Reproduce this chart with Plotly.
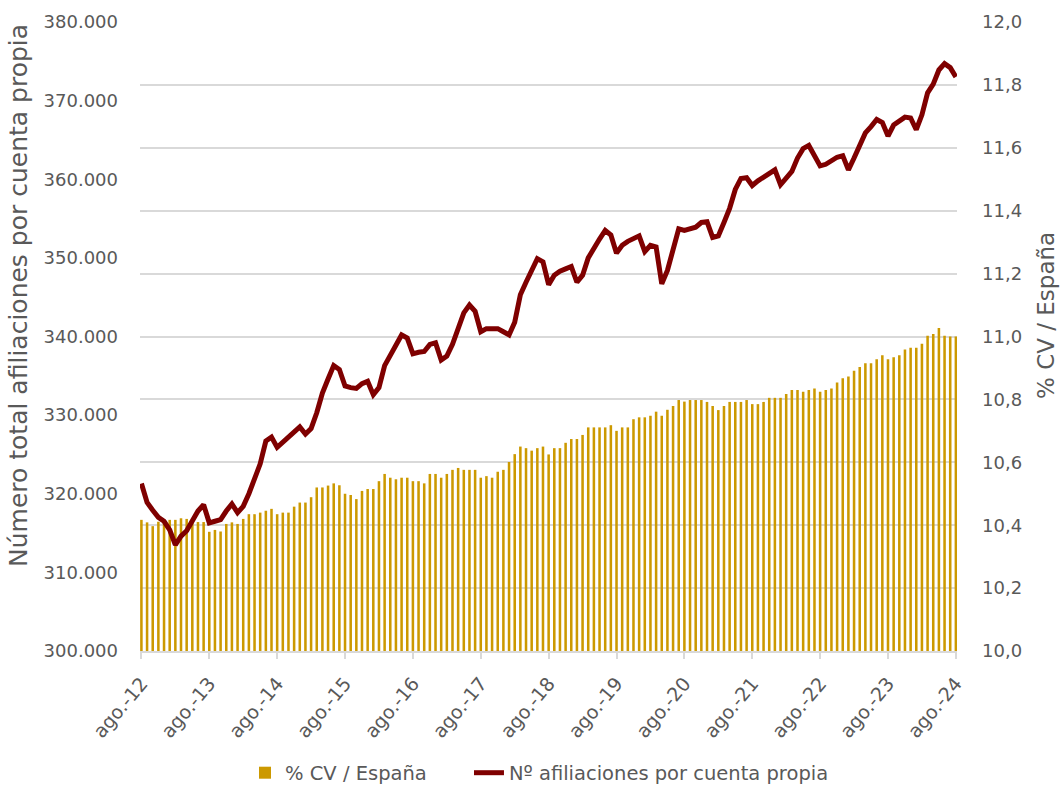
import plotly.graph_objects as go

# ---- data -------------------------------------------------------------
month_abbr = ["ago.", "sep.", "oct.", "nov.", "dic.", "ene.", "feb.", "mar.", "abr.", "may.", "jun.", "jul."]
start_year = 12
months = []
for k in range(145):
    yy = start_year + (k + 7) // 12
    months.append(f"{month_abbr[k % 12]}-{yy:02d}")

tick_labels = [f"ago.-{y}" for y in range(12, 25)]

afiliaciones = [
    321300, 318900, 317900, 317000, 316500, 315400, 313500, 314600, 315300, 316600, 317800, 318600,
    316300, 316500, 316700, 317800, 318700, 317600, 318400, 320000, 322000, 323800, 326700, 327200,
    325900, 326600, 327100, 327800, 328500, 327600, 328300, 330300, 332800, 334600, 336300, 335800,
    333700, 333500, 333400, 334000, 334300, 332600, 333500, 336300, 337600, 338800, 340200, 339800,
    337800, 338000, 338100, 339000, 339200, 337000, 337500, 339000, 341200, 343000, 344000, 343200,
    340600, 341000, 341000, 341000, 340600, 340200, 341800, 345300, 346900, 348500, 349900, 349500,
    346600, 347800, 348300, 348600, 348900, 346900, 347800, 350000, 351300, 352400, 353500, 352900,
    350600, 351600, 352100, 352500, 352800, 350800, 351600, 351400, 346700, 348400, 351200, 353700,
    353500, 353700, 353900, 354500, 354600, 352600, 352800, 354500, 356300, 358700, 360100, 360200,
    359200, 359800, 360300, 360800, 361200, 359300, 360200, 361000, 362700, 363900, 364300, 363100,
    361700, 361900, 362300, 362800, 363000, 361200, 362700, 364300, 365900, 366700, 367600, 367200,
    365500, 366900, 367400, 367900, 367800, 366300, 368200, 371000, 372100, 373900, 374700, 374200,
    373000,
]

pct_cv = [
    10.417, 10.409, 10.397, 10.411, 10.410, 10.417, 10.417, 10.422, 10.420, 10.417, 10.410, 10.410,
    10.379, 10.385, 10.380, 10.404, 10.409, 10.404, 10.420, 10.435, 10.435, 10.440, 10.446, 10.452,
    10.435, 10.440, 10.440, 10.459, 10.472, 10.472, 10.489, 10.520, 10.520, 10.526,
    10.533, 10.527, 10.500, 10.496, 10.483, 10.509, 10.515, 10.515, 10.540, 10.563, 10.551, 10.546,
    10.551, 10.551, 10.540, 10.540, 10.533,
    10.563, 10.563, 10.551, 10.563, 10.576, 10.582, 10.576, 10.576, 10.576, 10.551, 10.556, 10.551,
    10.570, 10.576, 10.601, 10.626, 10.650,
    10.645, 10.637, 10.645, 10.650, 10.625, 10.645, 10.645, 10.662, 10.674, 10.674, 10.687, 10.711,
    10.711, 10.711, 10.711, 10.718, 10.700, 10.711, 10.711, 10.737, 10.743, 10.743, 10.748, 10.761,
    10.748, 10.767, 10.779, 10.798, 10.793, 10.798, 10.798,
    10.798, 10.792, 10.779, 10.766, 10.779, 10.792, 10.792, 10.792, 10.798, 10.785, 10.785, 10.792,
    10.805, 10.805, 10.805, 10.817, 10.830, 10.830, 10.824, 10.830, 10.835, 10.824, 10.830, 10.835,
    10.854, 10.867, 10.873, 10.891, 10.903,
    10.915, 10.915, 10.928, 10.940, 10.928, 10.934, 10.940, 10.959, 10.964, 10.964, 10.977, 11.002,
    11.008, 11.027, 11.002, 11.000, 11.000,
]

left_title = "Número total afiliaciones por cuenta propia"
right_title = "% CV / España"
bar_name = "% CV / España"
line_name = "Nº afiliaciones por cuenta propia"

# ---- figure -----------------------------------------------------------
FONT = "DejaVu Sans"
GREY = "#595959"
GRID = "#D9D9D9"

fig = go.Figure()
fig.add_trace(go.Bar(
    x=months, y=[v - 10.0 for v in pct_cv], base=10.0,
    name=bar_name + "\u00a0" * 6, marker=dict(color="#CC9900", line=dict(width=0)),
    yaxis="y",
))
fig.add_trace(go.Scatter(
    x=months, y=afiliaciones, name=line_name,
    mode="lines", line=dict(color="#7F0000", width=5), yaxis="y2",
))

fig.update_layout(
    width=1061, height=787,
    margin=dict(l=140, r=104, t=22, b=136, autoexpand=False),
    paper_bgcolor="white", plot_bgcolor="white",
    separators=",.",
    bargap=0.55,
    font=dict(family=FONT, color=GREY, size=18),
    showlegend=True,
    legend=dict(orientation="h", x=(245 - 140) / 817, xanchor="left", y=-0.194, yanchor="middle",
                font=dict(size=19.5, color=GREY), traceorder="normal"),
    xaxis=dict(
        type="category", range=[-0.25, 144.2], automargin=False,
        tickmode="array", tickvals=tick_labels, ticktext=tick_labels,
        tickangle=-50, tickfont=dict(size=19, color=GREY), ticklabelstandoff=6,
        showline=True, linecolor=GRID, linewidth=1.5,
        ticks="outside", ticklen=6, tickcolor=GRID, tickwidth=1.5,
        showgrid=False, zeroline=False,
    ),
    yaxis=dict(
        side="right", range=[10.0, 12.0], dtick=0.2, tick0=10.0, tickformat=".1f",
        showgrid=True, gridcolor=GRID, gridwidth=1.5, zeroline=False, automargin=False,
        tickfont=dict(size=18, color=GREY), ticklabelstandoff=24,
    ),
    yaxis2=dict(
        side="left", overlaying="y", range=[300000, 380000], dtick=10000, tickformat=",.0f",
        showgrid=False, zeroline=False, automargin=False,
        tickfont=dict(size=18, color=GREY), ticklabelstandoff=21,
    ),
    annotations=[
        dict(text=left_title, textangle=-90, xref="paper", yref="paper",
             x=(18 - 140) / 817, y=(651 - 296) / 629, xanchor="center", yanchor="middle",
             showarrow=False, font=dict(size=25, color=GREY, family=FONT)),
        dict(text=right_title, textangle=-90, xref="paper", yref="paper",
             x=(1046 - 140) / 817, y=(651 - 316) / 629, xanchor="center", yanchor="middle",
             showarrow=False, font=dict(size=23, color=GREY, family=FONT)),
    ],
)

fig.write_html("out.html", config={"displayModeBar": False},
               post_script="document.body.style.margin='0px';")
